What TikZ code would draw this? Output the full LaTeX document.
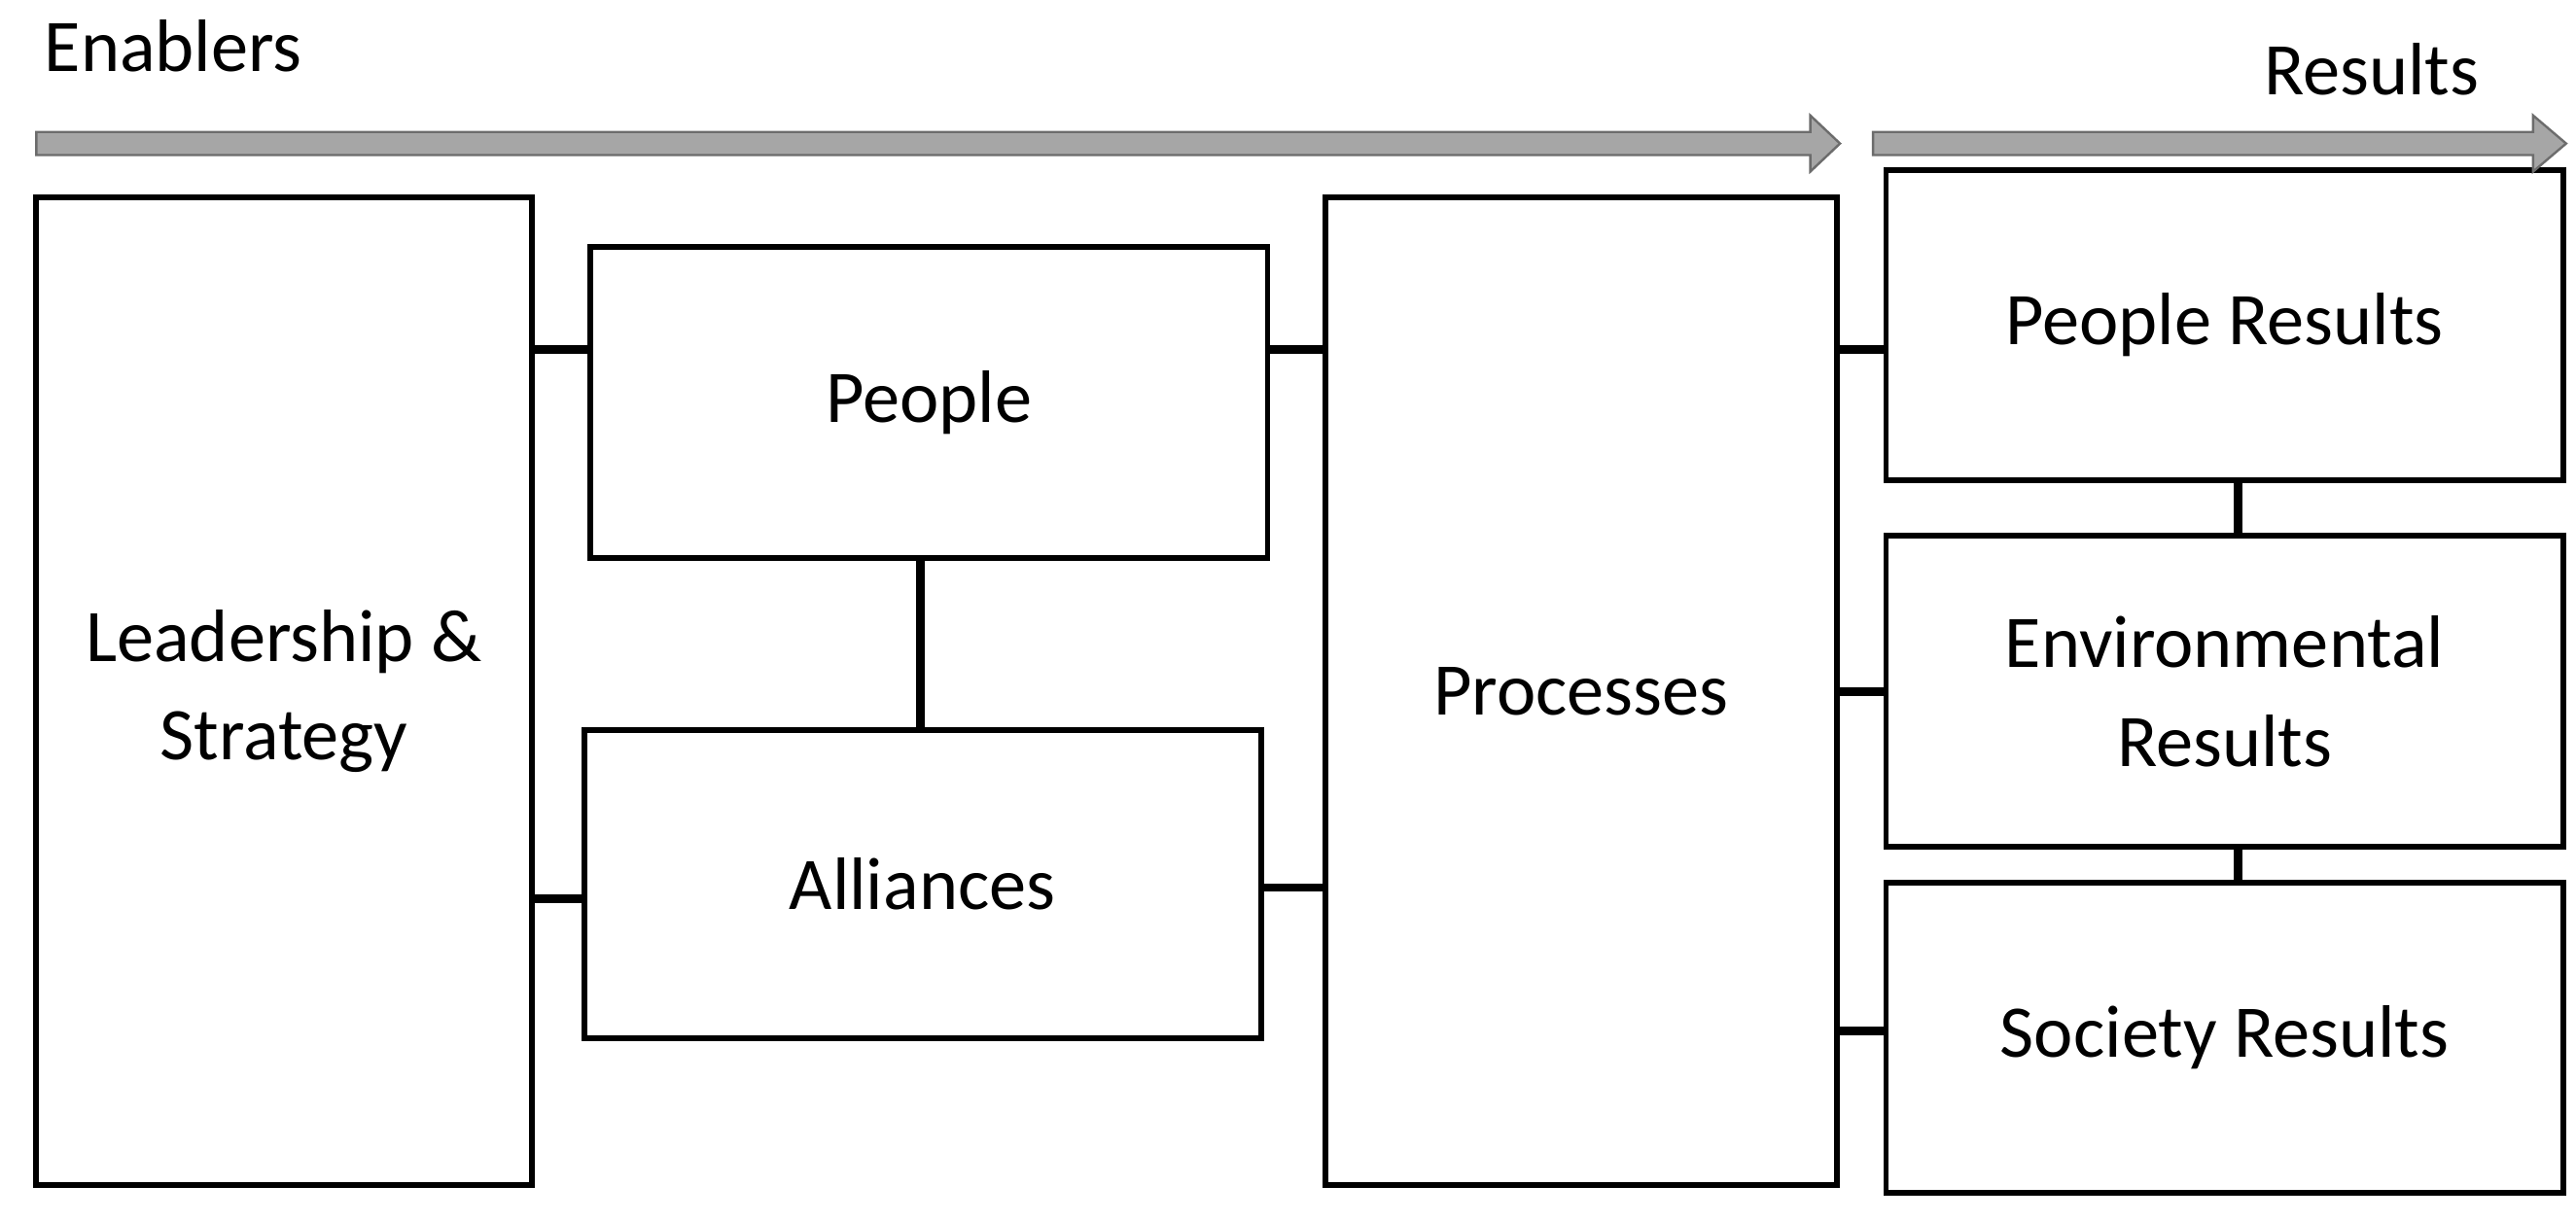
\documentclass[tikz,border=0pt]{standalone}
\usepackage{fontspec}
\setmainfont{Carlito}
\begin{document}
\begin{tikzpicture}[x=0.01cm,y=-0.01cm,
  box/.style={draw,line width=1pt,inner sep=0pt,align=center,font=\fontsize{12.8}{17}\selectfont},
  link/.style={line width=1.5pt},
  garrow/.style={fill=gray!70,draw=gray!85!black,line width=0.4pt},
  lbl/.style={font=\fontsize{12.8}{15}\selectfont}]
\useasboundingbox (0,0) rectangle (1561,740);
\node[box,minimum width=3cm,minimum height=5.98cm] (lead) at (172,419) {Leadership \&\\Strategy};
\node[box,minimum width=4.1cm,minimum height=1.88cm] (people) at (563,244) {People};
\node[box,minimum width=4.1cm,minimum height=1.87cm] (all) at (559,536) {Alliances};
\node[box,minimum width=3.1cm,minimum height=5.98cm] (proc) at (958,419) {Processes};
\node[box,minimum width=4.1cm,minimum height=1.88cm] (pr) at (1348,197) {People Results};
\node[box,minimum width=4.1cm,minimum height=1.88cm] (er) at (1348,419) {Environmental\\Results};
\node[box,minimum width=4.1cm,minimum height=1.88cm] (sr) at (1348,629) {Society Results};
\node[lbl] (en) at (105,28) {Enablers};
\node[lbl] (re) at (1437,42) {Results};
\filldraw[garrow] (22,80) -- (1097,80) -- (1097,70) -- (1115,87) -- (1097,104) -- (1097,94) -- (22,94) -- cycle;
\filldraw[garrow] (1135,80) -- (1535,80) -- (1535,70) -- (1555,87) -- (1535,104) -- (1535,94) -- (1135,94) -- cycle;
\draw[link] (lead.east |- 0,212) -- (people.west |- 0,212);
\draw[link] (lead.east |- 0,545) -- (all.west |- 0,545);
\draw[link] (people.south -| 558,0) -- (all.north -| 558,0);
\draw[link] (people.east |- 0,212) -- (proc.west |- 0,212);
\draw[link] (all.east |- 0,538) -- (proc.west |- 0,538);
\draw[link] (proc.east |- 0,212) -- (pr.west |- 0,212);
\draw[link] (proc.east |- 0,419) -- (er.west |- 0,419);
\draw[link] (proc.east |- 0,625) -- (sr.west |- 0,625);
\draw[link] (pr.south -| 1356,0) -- (er.north -| 1356,0);
\draw[link] (er.south -| 1356,0) -- (sr.north -| 1356,0);
\end{tikzpicture}
\end{document}
